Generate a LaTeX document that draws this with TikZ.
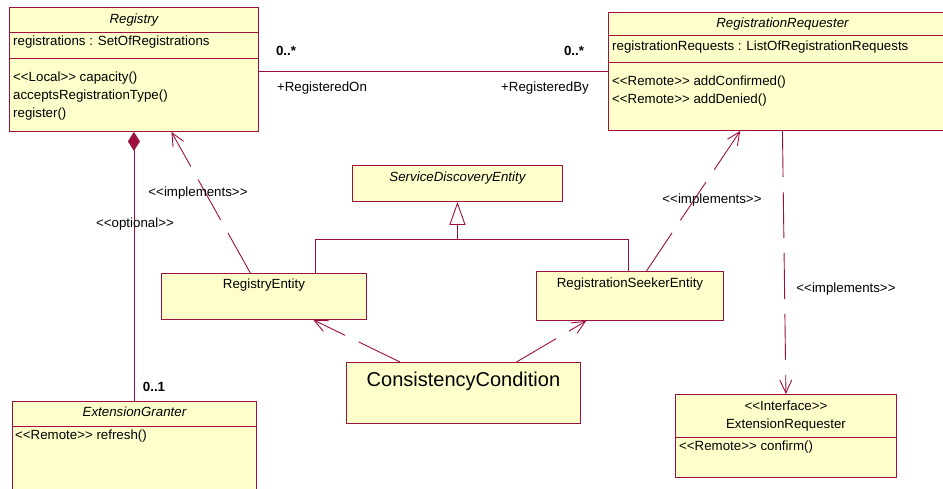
\documentclass[tikz,border=0pt]{standalone}
\usepackage{fontspec}
\setmainfont{Liberation Sans}[Ligatures=TeXOff]
\usepackage{tikz}
\usetikzlibrary{calc,arrows.meta}
\definecolor{umlred}{RGB}{158,16,64}
\definecolor{umlyellow}{RGB}{255,255,204}
\newcommand\umlsize{\fontsize{13.3}{18}\selectfont}

\begin{document}
\begin{tikzpicture}[
        x=1pt, y=-1pt,
        font=\umlsize,
        class/.style={
            rectangle, draw=umlred, fill=umlyellow, line width=0.9pt,
            anchor=north west, inner sep=0pt
        },
        clsname/.style={
            inner sep=0pt, text height=9.5pt, text depth=2.5pt
        },
        member/.style={
            anchor=west, inner sep=0pt, text height=9.5pt, text depth=2.5pt
        },
        divider/.style={draw=umlred, line width=0.9pt},
        assoc/.style={draw=umlred, line width=0.9pt},
        mult/.style={font=\umlsize\bfseries, inner sep=0pt},
        lbl/.style={inner sep=0pt},
        impl/.style={
            draw=umlred, line width=0.9pt, dash pattern=on 46pt off 15pt,
            -{Straight Barb[length=13pt,width=12pt]}
        }
    ]
    \useasboundingbox (0,0) rectangle (943,488);
    \clip (0,0) rectangle (943,488);

    % Registry
    \node[class, minimum width=249pt, minimum height=124pt] (registry) at (9,7) {};
    \draw[divider] ([yshift=-25pt]registry.north west) -- ([yshift=-25pt]registry.north east);
    \draw[divider] ([yshift=-51pt]registry.north west) -- ([yshift=-51pt]registry.north east);
    \node[clsname, font=\umlsize\itshape] (registry-name) at ([yshift=-13pt]registry.north) {Registry};
    \node[member] (registry-a1) at ([xshift=4pt,yshift=-35pt]registry.north west) {registrations : SetOfRegistrations};
    \node[member] (registry-o1) at ([xshift=4pt,yshift=-71pt]registry.north west) {<<Local>> capacity()};
    \node[member] (registry-o2) at ([xshift=4pt,yshift=-89pt]registry.north west) {acceptsRegistrationType()};
    \node[member] (registry-o3) at ([xshift=4pt,yshift=-107pt]registry.north west) {register()};

    % RegistrationRequester
    \node[class, minimum width=348pt, minimum height=118pt] (requester) at (608,12) {};
    \draw[divider] ([yshift=-23pt]requester.north west) -- ([yshift=-23pt]requester.north east);
    \draw[divider] ([yshift=-50pt]requester.north west) -- ([yshift=-50pt]requester.north east);
    \node[clsname, font=\umlsize\itshape] (requester-name) at ([yshift=-12pt]requester.north) {RegistrationRequester};
    \node[member] (requester-a1) at ([xshift=4pt,yshift=-35pt]requester.north west) {registrationRequests : ListOfRegistrationRequests};
    \node[member] (requester-o1) at ([xshift=4pt,yshift=-70pt]requester.north west) {<<Remote>> addConfirmed()};
    \node[member] (requester-o2) at ([xshift=4pt,yshift=-88pt]requester.north west) {<<Remote>> addDenied()};

    % ExtensionGranter
    \node[class, minimum width=244pt, minimum height=110pt] (granter) at (12,401) {};
    \draw[divider] ([yshift=-25pt]granter.north west) -- ([yshift=-25pt]granter.north east);
    \node[clsname, font=\umlsize\itshape] (granter-name) at ([yshift=-12pt]granter.north) {ExtensionGranter};
    \node[member] (granter-o1) at ([xshift=3pt,yshift=-35pt]granter.north west) {<<Remote>> refresh()};

    % ServiceDiscoveryEntity
    \node[class, minimum width=210pt, minimum height=36pt] (sde) at (352,165) {};
    \node[clsname, font=\umlsize\itshape] (sde-name) at ([yshift=-13pt]sde.north) {ServiceDiscoveryEntity};

    % RegistryEntity
    \node[class, minimum width=205pt, minimum height=46pt] (regentity) at (161,273) {};
    \node[clsname] (regentity-name) at ([yshift=-12pt]regentity.north) {RegistryEntity};

    % RegistrationSeekerEntity
    \node[class, minimum width=187pt, minimum height=49pt] (seeker) at (536,271) {};
    \node[clsname] (seeker-name) at ([yshift=-13pt]seeker.north) {RegistrationSeekerEntity};

    % ConsistencyCondition
    \node[class, minimum width=234pt, minimum height=61pt] (cc) at (346,362) {};
    \node[clsname, font=\fontsize{20}{24}\selectfont, text height=14pt, text depth=4pt] (cc-name) at ([yshift=-19pt]cc.north) {ConsistencyCondition};

    % ExtensionRequester
    \node[class, minimum width=221pt, minimum height=83pt] (extreq) at (675,394) {};
    \draw[divider] ([yshift=-43pt]extreq.north west) -- ([yshift=-43pt]extreq.north east);
    \node[clsname] (extreq-stereo) at ([yshift=-13pt]extreq.north) {<<Interface>>};
    \node[clsname] (extreq-name) at ([yshift=-31pt]extreq.north) {ExtensionRequester};
    \node[member] (extreq-o1) at ([xshift=4pt,yshift=-53pt]extreq.north west) {<<Remote>> confirm()};

    % association Registry -- RegistrationRequester
    \draw[assoc] (requester.west -| registry.east) -- (requester.west);
    \node[mult] (mult-on) at (286,51) {0..*};
    \node[lbl] (role-on) at (322,88) {+RegisteredOn};
    \node[mult] (mult-by) at (574,51) {0..*};
    \node[lbl] (role-by) at (545,88) {+RegisteredBy};

    % composition Registry -- ExtensionGranter
    \draw[assoc, {Diamond[length=19pt,width=12pt]}-] (registry.south) -- (registry.south |- granter.north);
    \node[lbl] (optional) at (135,224) {<<optional>>};
    \node[mult] (mult-granter) at (154,387) {0..1};

    % generalization
    \coordinate (gen) at ([yshift=-38pt]sde.south);
    \draw[assoc, -{Triangle[length=23pt,width=16pt,fill=white]}] (gen) -- (sde.south);
    \draw[assoc] ($(regentity.north west)!0.75!(regentity.north east)$) |- (gen)
        -| ($(seeker.north west)!0.49!(seeker.north east)$);

    % realizations
    \draw[impl] ($(regentity.north west)!0.434!(regentity.north east)$) -- ($(registry.south west)!0.65!(registry.south east)$);
    \draw[impl] ($(seeker.north west)!0.588!(seeker.north east)$) -- ($(requester.south west)!0.379!(requester.south east)$);
    \draw[impl] (requester.south) -- (extreq.north);
    \draw[impl] ($(cc.north west)!0.23!(cc.north east)$) -- ($(regentity.south west)!0.74!(regentity.south east)$);
    \draw[impl] ($(cc.north west)!0.726!(cc.north east)$) -- ($(seeker.south west)!0.267!(seeker.south east)$);
    \node[lbl] (impl-registry) at (198,193) {<<implements>>};
    \node[lbl] (impl-requester) at (712,200) {<<implements>>};
    \node[lbl] (impl-extreq) at (846,289) {<<implements>>};

\end{tikzpicture}
\end{document}
